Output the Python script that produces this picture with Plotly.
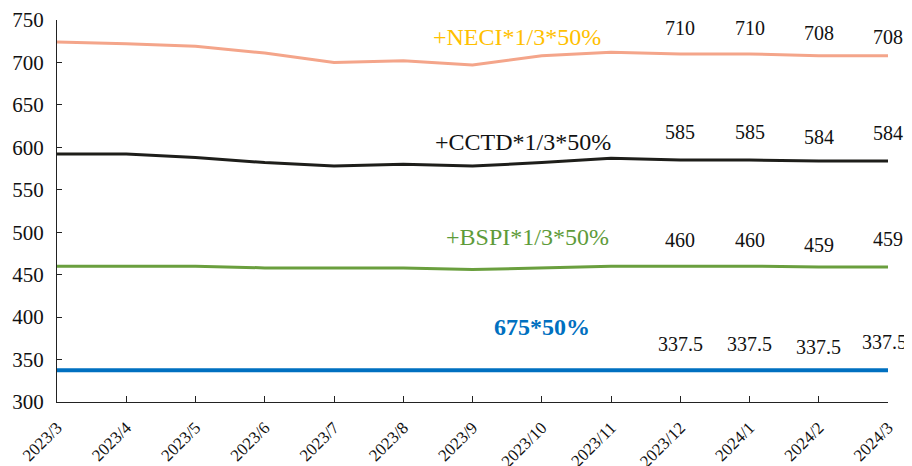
import plotly.graph_objects as go

months = ["2023/3", "2023/4", "2023/5", "2023/6", "2023/7", "2023/8", "2023/9",
          "2023/10", "2023/11", "2023/12", "2024/1", "2024/2", "2024/3"]

neci = [724, 722, 719, 711, 700, 702, 697, 708, 712, 710, 710, 708, 708]
cctd = [592, 592, 588, 582, 578, 580, 578, 582, 587, 585, 585, 584, 584]
bspi = [460, 460, 460, 458, 458, 458, 456, 458, 460, 460, 460, 459, 459]
base = [337.5] * 13

# 后四个月标注的数值
lbl_neci = ["710", "710", "708", "708"]
lbl_cctd = ["585", "585", "584", "584"]
lbl_bspi = ["460", "460", "459", "459"]
lbl_base = ["337.5", "337.5", "337.5", "337.5"]

FONT = "Liberation Serif"

fig = go.Figure()
fig.add_trace(go.Scatter(x=months, y=neci, mode="lines", line=dict(color="#F4A58A", width=3)))
fig.add_trace(go.Scatter(x=months, y=cctd, mode="lines", line=dict(color="#1E1E1A", width=3)))
fig.add_trace(go.Scatter(x=months, y=bspi, mode="lines", line=dict(color="#6A9F3E", width=3)))
fig.add_trace(go.Scatter(x=months, y=base, mode="lines", line=dict(color="#0070C0", width=4)))

# 数据标注（上下略有错落）
shifts = [[26, 26, 23, 19], [28, 28, 24, 28], [26, 26, 22, 28], [26, 26, 23, 28]]
xshifts = [[0, 0, 0, 0], [0, 0, 0, 0], [0, 0, 0, 0], [0, 0, 0, -4]]
series = [neci, cctd, bspi, base]
labels = [lbl_neci, lbl_cctd, lbl_bspi, lbl_base]
for s, lb, sh, xs in zip(series, labels, shifts, xshifts):
    for i, t in enumerate(lb):
        idx = 9 + i
        fig.add_annotation(x=months[idx], y=s[idx], text=t, showarrow=False,
                           yshift=sh[i], xshift=xs[i],
                           font=dict(family=FONT, size=20, color="#111"))

names = [("+NECI*1/3*50%", "#FFC000", 0.5535, 0.995),
         ("+CCTD*1/3*50%", "#111111", 0.561, 0.72),
         ("+BSPI*1/3*50%", "#5E9B3A", 0.5656, 0.432),
         ("<b>675*50%</b>", "#0070C0", 0.5836, 0.157)]
for txt, col, px, py in names:
    fig.add_annotation(xref="paper", yref="paper", x=px, y=py, text=txt, showarrow=False,
                       font=dict(family=FONT, size=24, color=col))

# 页面本身有 8px 边距，所以整体缩小一点
fig.update_layout(
    width=904, height=458,
    margin=dict(l=49, r=24, t=12, b=64),
    paper_bgcolor="white", plot_bgcolor="white",
    showlegend=False,
    font=dict(family=FONT, color="#111"),
)
fig.update_xaxes(type="category", range=[0, 12], showgrid=False, showline=True, automargin=False,
                 linecolor="#222", linewidth=1, ticks="inside", ticklen=6, tickcolor="#222",
                 tickangle=-45, ticklabelstandoff=8,
                 tickfont=dict(family=FONT, size=17, color="#111"))
fig.update_yaxes(range=[300, 750], dtick=50, showgrid=False, showline=True, zeroline=False,
                 automargin=False, linecolor="#222", linewidth=1, ticks="inside", ticklen=5,
                 tickcolor="#222", ticklabelstandoff=8,
                 tickfont=dict(family=FONT, size=21, color="#111"))

fig.write_html("out.html")
